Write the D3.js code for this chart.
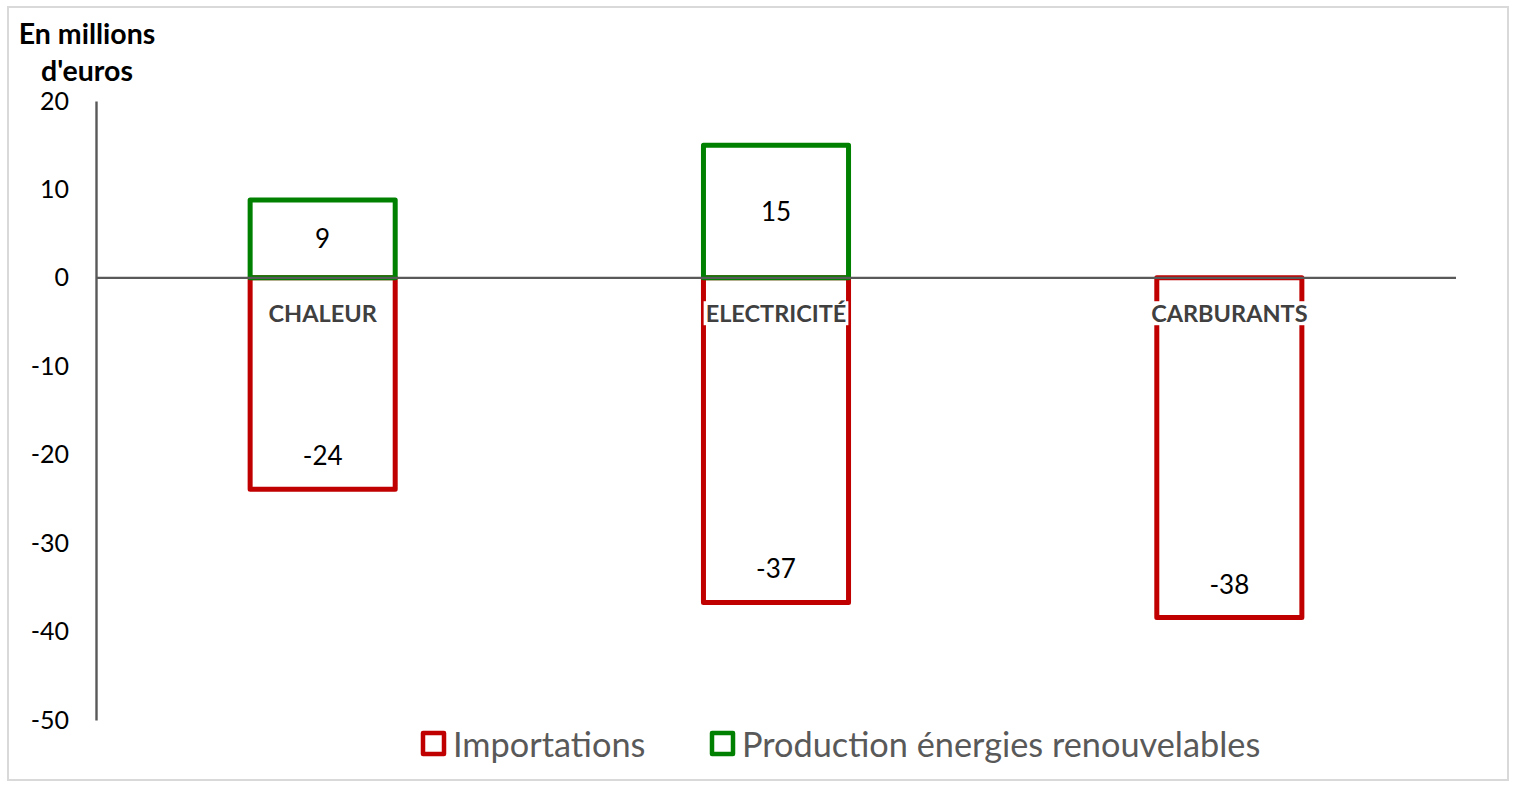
<!DOCTYPE html>
<html><head><meta charset="utf-8">
<script src="https://cdn.jsdelivr.net/npm/d3@7"></script>
<style>body{margin:0;background:#fff}svg{display:block}text{font-family:Lato,"Open Sans",sans-serif}</style>
</head><body><svg id="c" width="1517" height="786"></svg>
<script>
const categories = ["CHALEUR", "ELECTRICITÉ", "CARBURANTS"];
const importations = [-23.9, -36.7, -38.4];
const production = [8.8, 15.0, null];
const yTicks = [20, 10, 0, -10, -20, -30, -40, -50];
const seriesNames = ["Importations", "Production énergies renouvelables"];
const seriesColors = ["#C00000", "#008000"];

const loc = d3.formatLocale({decimal: ",", thousands: " ", grouping: [3], currency: ["", "€"], minus: "-"});
const fmt = loc.format(".0f");

const svg = d3.select("#c");
svg.append("rect").attr("x",8).attr("y",7).attr("width",1500).attr("height",773)
  .attr("fill","#fff").attr("stroke","#d9d9d9").attr("stroke-width",2);

const x = d3.scaleBand().domain(categories).range([96,1456]).paddingInner(0.68).paddingOuter(0.34);
const y = d3.scaleLinear().domain([-50,20]).range([720,101]);

const series = [importations, production];
series.forEach((vals, si) => {
  const g = svg.append("g");
  const data = categories.map((c,i)=>({c, v: vals[i]})).filter(d=>d.v!=null);
  g.selectAll("rect").data(data).join("rect")
    .attr("x", d=>x(d.c)).attr("width", x.bandwidth())
    .attr("y", d=>y(Math.max(0,d.v))).attr("height", d=>Math.abs(y(d.v)-y(0)))
    .attr("fill","none").attr("stroke", seriesColors[si]).attr("stroke-width",5)
    .attr("stroke-linejoin","round");
});

// axes
const yAxis = d3.axisLeft(y).tickValues(yTicks).tickSize(0).tickPadding(27).tickFormat(fmt);
const ga = svg.append("g").attr("transform","translate(96,0)").call(yAxis);
ga.select(".domain").attr("stroke","#595959").attr("stroke-width",2.4);
ga.selectAll("text").attr("font-size",25).attr("fill","#000").style("font-family","Lato");
svg.append("line").attr("x1",96).attr("x2",1456).attr("y1",y(0)).attr("y2",y(0))
  .attr("stroke","#595959").attr("stroke-width",2.4);

// value labels
categories.forEach((c,i)=>{
  const cx = x(c)+x.bandwidth()/2;
  if (production[i]!=null) {
    svg.append("text").attr("x",cx).attr("y",(y(production[i])+y(0))/2).attr("dy","0.35em")
      .attr("text-anchor","middle").attr("font-size",26).attr("fill","#000").text(fmt(production[i]));
  }
  svg.append("text").attr("x",cx).attr("y",y(importations[i])-33).attr("dy","0.35em")
    .attr("text-anchor","middle").attr("font-size",26).attr("fill","#000").text(fmt(importations[i]));
});

// category labels with white background
categories.forEach(c=>{
  const cx = x(c)+x.bandwidth()/2;
  const g = svg.append("g");
  const bg = g.append("rect").attr("fill","#fff");
  const t = g.append("text").attr("x",cx).attr("y",314).attr("dy","0.35em").attr("text-anchor","middle")
    .attr("font-size",23.5).attr("font-weight","bold").attr("fill","#404040").text(c);
  const b = t.node().getBBox();
  bg.attr("x",b.x-2).attr("y",b.y+2).attr("width",b.width+4).attr("height",b.height-4);
});

// title
const title = svg.append("text").attr("font-size",28.5).attr("font-weight","bold").attr("fill","#000").attr("text-anchor","middle");
title.append("tspan").attr("x",87).attr("y",44).text("En millions");
title.append("tspan").attr("x",87).attr("y",81).text("d'euros");

// legend
const legX = [433, 722];
seriesNames.forEach((n,i)=>{
  svg.append("rect").attr("x",legX[i]-10).attr("y",733).attr("width",21).attr("height",21)
    .attr("fill","#fff").attr("stroke",seriesColors[i]).attr("stroke-width",4.5).attr("stroke-linejoin","round");
  svg.append("text").attr("x",legX[i]+20).attr("y",745).attr("dy","0.35em").attr("font-size",34.3)
    .attr("fill","#595959").text(n);
});
</script></body></html>
